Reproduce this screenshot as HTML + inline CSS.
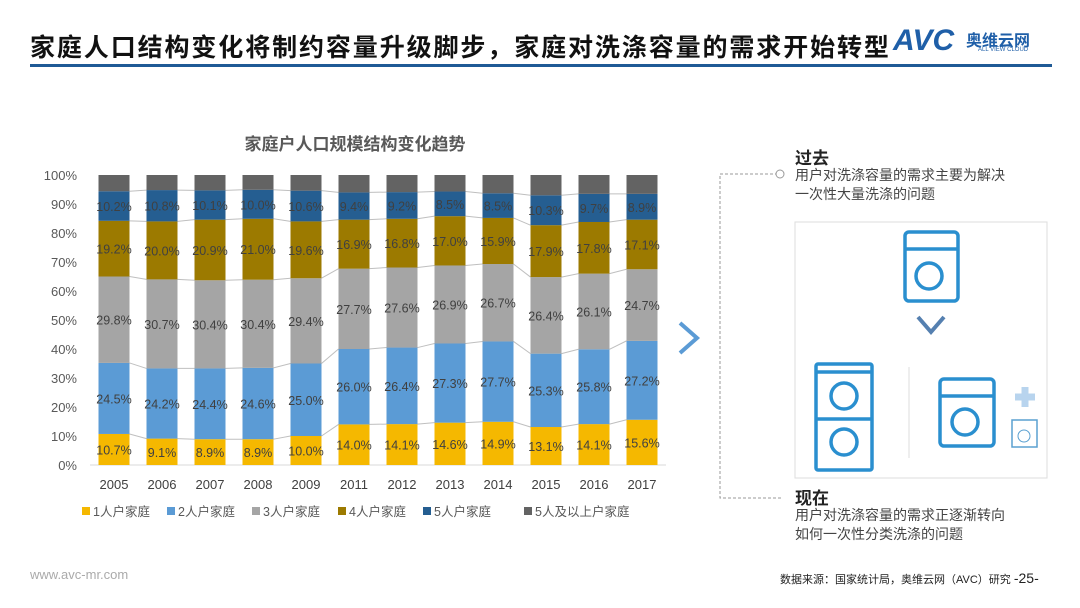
<!DOCTYPE html>
<html><head><meta charset="utf-8"><style>
body{margin:0;width:1080px;height:608px;background:#fff;overflow:hidden;font-family:"Liberation Sans","Noto Sans CJK SC",sans-serif;position:relative}
.abs{position:absolute}
</style></head><body>
<div class="abs" style="left:30px;top:28px;font-size:25px;font-weight:bold;color:#111;letter-spacing:1.9px;white-space:nowrap">家庭人口结构变化将制约容量升级脚步，家庭对洗涤容量的需求开始转型</div>
<div class="abs" style="left:893px;top:24px;font-size:30px;font-weight:bold;font-style:italic;color:#1f5fa8">AVC</div>
<div class="abs" style="left:966px;top:27px;font-size:16px;font-weight:bold;color:#1f5fa8">奥维云网</div>
<div class="abs" style="left:978px;top:47px;font-size:6px;color:#1f5fa8">ALL VIEW CLOUD</div>
<div class="abs" style="left:30px;top:64px;width:1022px;height:3px;background:#1f5a96"></div>
<svg class="abs" style="left:0;top:0" width="1080" height="608" id="chart">
<text x="355" y="150" text-anchor="middle" font-size="17" font-weight="bold" fill="#595959">家庭户人口规模结构变化趋势</text>
</svg>
<div class="abs" style="left:795px;top:144px;font-size:17px;font-weight:bold;color:#222">过去</div>
<div class="abs" style="left:795px;top:166px;font-size:14px;color:#444;line-height:19px">用户对洗涤容量的需求主要为解决<br>一次性大量洗涤的问题</div>
<div class="abs" style="left:795px;top:484px;font-size:17px;font-weight:bold;color:#222">现在</div>
<div class="abs" style="left:795px;top:506px;font-size:14px;color:#444;line-height:19px">用户对洗涤容量的需求正逐渐转向<br>如何一次性分类洗涤的问题</div>
<svg class="abs" style="left:0;top:0" width="1080" height="608">
<path d="M778 174 H720 V498 H783" fill="none" stroke="#999" stroke-dasharray="3,2" stroke-width="1"/>
<circle cx="780" cy="174" r="4" fill="#fff" stroke="#999"/>
<polyline points="680,323 697,338 680,353" fill="none" stroke="#5b9bd5" stroke-width="4"/>
<rect x="795" y="222" width="252" height="256" fill="#fff" stroke="#ddd"/>
<g fill="none" stroke="#2a8fcf" stroke-width="3.5">
<rect x="905" y="232" width="53" height="69" rx="4"/><line x1="905" y1="249" x2="958" y2="249"/><circle cx="929" cy="276" r="13"/>
<rect x="940" y="379" width="54" height="67" rx="4"/><line x1="940" y1="396" x2="994" y2="396"/><circle cx="965" cy="422" r="13"/>
<rect x="816" y="364" width="56" height="106" rx="2"/><line x1="816" y1="372" x2="872" y2="372"/><line x1="816" y1="419" x2="872" y2="419"/>
<circle cx="844" cy="396" r="13"/><circle cx="844" cy="442" r="13"/>
</g>
<rect x="1012" y="420" width="25" height="27" fill="none" stroke="#5aa0d0" stroke-width="1.5"/><circle cx="1024" cy="436" r="6" fill="none" stroke="#5aa0d0"/>
<path d="M1015 397 h20 M1025 387 v20" stroke="#b8d4ee" stroke-width="7"/>
<polyline points="918,317 931,332 944,317" fill="none" stroke="#5580b0" stroke-width="4"/>
<line x1="909" y1="367" x2="909" y2="458" stroke="#ddd"/>
</svg>
<div class="abs" style="left:30px;top:567px;font-size:13px;color:#aaa">www.avc-mr.com</div>
<div class="abs" style="left:780px;top:570px;font-size:11px;color:#222">数据来源：国家统计局，奥维云网（AVC）研究 <span style="font-size:14px">-25-</span></div>
<script>
const years=["2005","2006","2007","2008","2009","2011","2012","2013","2014","2015","2016","2017"];
const p1=[10.7,9.1,8.9,8.9,10.0,14.0,14.1,14.6,14.9,13.1,14.1,15.6];
const p2=[24.5,24.2,24.4,24.6,25.0,26.0,26.4,27.3,27.7,25.3,25.8,27.2];
const p3=[29.8,30.7,30.4,30.4,29.4,27.7,27.6,26.9,26.7,26.4,26.1,24.7];
const p4=[19.2,20.0,20.9,21.0,19.6,16.9,16.8,17.0,15.9,17.9,17.8,17.1];
const p5=[10.2,10.8,10.1,10.0,10.6,9.4,9.2,8.5,8.5,10.3,9.7,8.9];
const yTicks=[0,10,20,30,40,50,60,70,80,90,100];
const seriesNames=["1人户家庭","2人户家庭","3人户家庭","4人户家庭","5人户家庭","5人及以上户家庭"];
const colors=["#f5b800","#5b9bd5","#a5a5a5","#9c7a00","#255e91","#636363"];
const p6=years.map((_,i)=>Math.max(0,100-p1[i]-p2[i]-p3[i]-p4[i]-p5[i]));
const series=[p1,p2,p3,p4,p5,p6];
const svg=document.getElementById('chart');const NS="http://www.w3.org/2000/svg";
const y=v=>465-v*2.9, x=i=>114+i*48, bw=31;
function mk(t,a,txt){const e=document.createElementNS(NS,t);for(const k in a)e.setAttribute(k,a[k]);if(txt!=null)e.textContent=txt;svg.appendChild(e);return e;}
yTicks.forEach(t=>{const e=mk('text',{x:77,y:y(t)+5,'text-anchor':'end','font-size':13,fill:'#595959'},t+'%');

});
mk('line',{x1:90,y1:465,x2:666,y2:465,stroke:'#d9d9d9'});
for(let s=0;s<5;s++){for(let i=0;i<years.length-1;i++){
let c1=0,c2=0;for(let k=0;k<=s;k++){c1+=series[k][i];c2+=series[k][i+1];}
const l=mk('line',{x1:x(i)+bw/2,y1:y(c1),x2:x(i+1)-bw/2,y2:y(c2),stroke:'#bfbfbf','stroke-width':1});

}}
years.forEach((yr,i)=>{let cum=0;
series.forEach((arr,s)=>{const v=arr[i];
const r=mk('rect',{x:x(i)-bw/2,y:y(cum+v),width:bw,height:v*2.9,fill:colors[s]});


if(s<5){const t=mk('text',{x:x(i),y:y(cum+v/2)+5,'text-anchor':'middle','font-size':12.5,fill:'#404040'},v.toFixed(1)+'%');

}
cum+=v;});
const t=mk('text',{x:x(i),y:489,'text-anchor':'middle','font-size':13,fill:'#404040'},yr);

});
const lx=[82,167,252,338,423,524];
seriesNames.forEach((n,s)=>{const r=mk('rect',{x:lx[s],y:507,width:8,height:8,fill:colors[s]});


const t=mk('text',{x:lx[s]+11,y:516,'font-size':12.5,fill:'#595959'},n);

});
</script>
</body></html>
